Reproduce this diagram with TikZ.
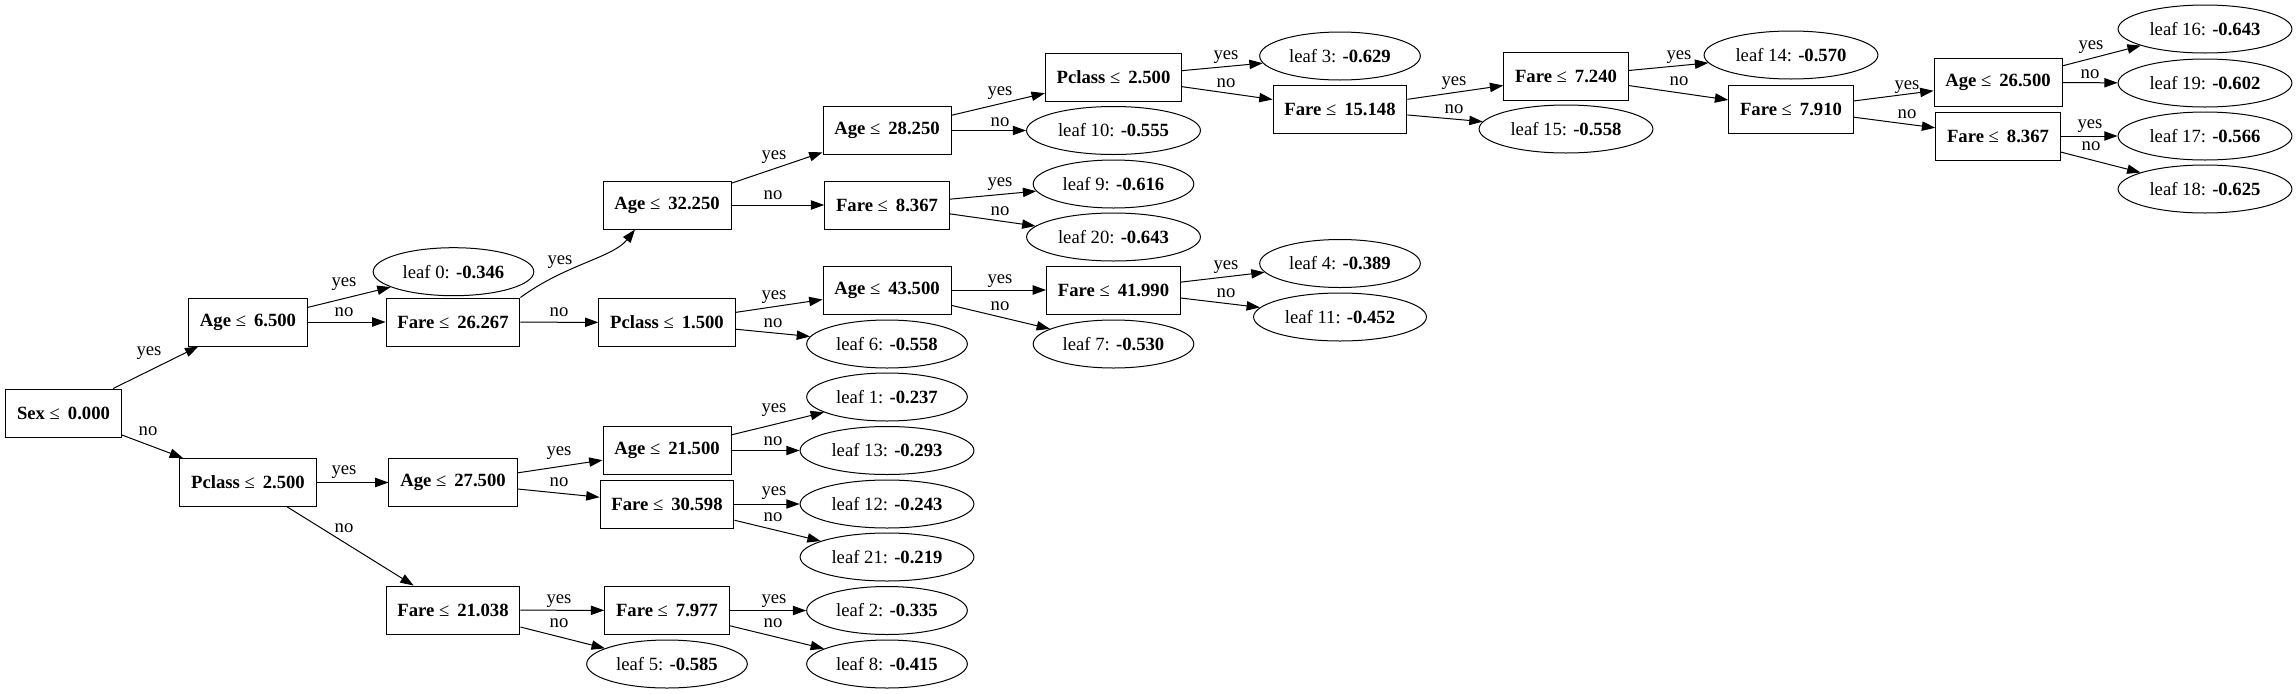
\documentclass[tikz,border=0pt]{standalone}
\usepackage{fontspec}
\setmainfont{Liberation Serif}
\usetikzlibrary{arrows.meta,shapes.geometric}
\newcommand\cmpsym{≤\kern2.5pt}
\begin{document}
\begin{tikzpicture}[x=0.75pt,y=-0.75pt,
  every node/.style={font=\fontsize{14pt}{16pt}\selectfont},
  split/.style={draw,line width=0.75pt,rectangle,minimum height=36pt,inner xsep=8.5pt,inner ysep=0pt},
  leafnode/.style={draw,line width=0.75pt,ellipse,minimum height=36pt,inner xsep=4.5pt,inner ysep=2pt},
  edge/.style={line width=0.75pt,-{Triangle[length=10pt,width=7pt]}},
  lbl/.style={inner sep=0pt}]
\useasboundingbox (0,0) rectangle (2296,693);
% internal nodes
\node[split] (n0) at (63.5,413) {\textbf{Sex} \cmpsym{} \textbf{0.000}};
\node[split] (n1) at (248,322) {\textbf{Age} \cmpsym{} \textbf{6.500}};
\node[split] (n2) at (248,482.5) {\textbf{Pclass} \cmpsym{} \textbf{2.500}};
\node[split] (n3) at (453,322) {\textbf{Fare} \cmpsym{} \textbf{26.267}};
\node[split] (n4) at (453,482.5) {\textbf{Age} \cmpsym{} \textbf{27.500}};
\node[split] (n5) at (453,610) {\textbf{Fare} \cmpsym{} \textbf{21.038}};
\node[split] (n6) at (667,205) {\textbf{Age} \cmpsym{} \textbf{32.250}};
\node[split] (n7) at (667,322.5) {\textbf{Pclass} \cmpsym{} \textbf{1.500}};
\node[split] (n8) at (667,450.5) {\textbf{Age} \cmpsym{} \textbf{21.500}};
\node[split] (n9) at (667,504) {\textbf{Fare} \cmpsym{} \textbf{30.598}};
\node[split] (n10) at (667,610.5) {\textbf{Fare} \cmpsym{} \textbf{7.977}};
\node[split] (n11) at (887,130.5) {\textbf{Age} \cmpsym{} \textbf{28.250}};
\node[split] (n12) at (887,205) {\textbf{Fare} \cmpsym{} \textbf{8.367}};
\node[split] (n13) at (887,290) {\textbf{Age} \cmpsym{} \textbf{43.500}};
\node[split] (n14) at (1113.5,77) {\textbf{Pclass} \cmpsym{} \textbf{2.500}};
\node[split] (n15) at (1113.5,290) {\textbf{Fare} \cmpsym{} \textbf{41.990}};
\node[split] (n16) at (1340,109) {\textbf{Fare} \cmpsym{} \textbf{15.148}};
\node[split] (n17) at (1566,76.5) {\textbf{Fare} \cmpsym{} \textbf{7.240}};
\node[split] (n18) at (1791,109) {\textbf{Fare} \cmpsym{} \textbf{7.910}};
\node[split] (n19) at (1998,82.5) {\textbf{Age} \cmpsym{} \textbf{26.500}};
\node[split] (n20) at (1998,136) {\textbf{Fare} \cmpsym{} \textbf{8.367}};
% leaves
\node[leafnode] (L0) at (453.5,271.7) {leaf 0: \textbf{-0.346}};
\node[leafnode] (L10) at (1113.5,130.5) {leaf 10: \textbf{-0.555}};
\node[leafnode] (L9) at (1113.5,184) {leaf 9: \textbf{-0.616}};
\node[leafnode] (L20) at (1113.5,237) {leaf 20: \textbf{-0.643}};
\node[leafnode] (L6) at (887,344) {leaf 6: \textbf{-0.558}};
\node[leafnode] (L7) at (1113.5,344) {leaf 7: \textbf{-0.530}};
\node[leafnode] (L1) at (887,397) {leaf 1: \textbf{-0.237}};
\node[leafnode] (L13) at (887,450.5) {leaf 13: \textbf{-0.293}};
\node[leafnode] (L12) at (887,504) {leaf 12: \textbf{-0.243}};
\node[leafnode] (L21) at (887,557) {leaf 21: \textbf{-0.219}};
\node[leafnode] (L2) at (887,610.5) {leaf 2: \textbf{-0.335}};
\node[leafnode] (L8) at (887,664) {leaf 8: \textbf{-0.415}};
\node[leafnode] (L5) at (667,664) {leaf 5: \textbf{-0.585}};
\node[leafnode] (L3) at (1340,56) {leaf 3: \textbf{-0.629}};
\node[leafnode] (L4) at (1340,263.5) {leaf 4: \textbf{-0.389}};
\node[leafnode] (L11) at (1340,317) {leaf 11: \textbf{-0.452}};
\node[leafnode] (L14) at (1791,55) {leaf 14: \textbf{-0.570}};
\node[leafnode] (L15) at (1566,129) {leaf 15: \textbf{-0.558}};
\node[leafnode] (L16) at (2205,29) {leaf 16: \textbf{-0.643}};
\node[leafnode] (L19) at (2205,83) {leaf 19: \textbf{-0.602}};
\node[leafnode] (L17) at (2205,136) {leaf 17: \textbf{-0.566}};
\node[leafnode] (L18) at (2205,189) {leaf 18: \textbf{-0.625}};
% edges
\draw[edge] (n0) -- (n1);
\draw[edge] (n0) -- (n2);
\draw[edge] (n1) -- (L0);
\draw[edge] (n1) -- (n3);
\draw[edge] (n3.north east) .. controls +(45,-33) and +(-22,28) .. ([xshift=-24pt]n6.south);
\draw[edge] (n3) -- (n7);
\draw[edge] (n2) -- (n4);
\draw[edge] (n2) -- (n5);
\draw[edge] (n6) -- (n11);
\draw[edge] (n6) -- (n12);
\draw[edge] (n7) -- (n13);
\draw[edge] (n7) -- (L6);
\draw[edge] (n11) -- (n14);
\draw[edge] (n11) -- (L10);
\draw[edge] (n12) -- (L9);
\draw[edge] (n12) -- (L20);
\draw[edge] (n13) -- (n15);
\draw[edge] (n13) -- (L7);
\draw[edge] (n14) -- (L3);
\draw[edge] (n14) -- (n16);
\draw[edge] (n15) -- (L4);
\draw[edge] (n15) -- (L11);
\draw[edge] (n16) -- (n17);
\draw[edge] (n16) -- (L15);
\draw[edge] (n17) -- (L14);
\draw[edge] (n17) -- (n18);
\draw[edge] (n18) -- (n19);
\draw[edge] (n18) -- (n20);
\draw[edge] (n19) -- (L16);
\draw[edge] (n19) -- (L19);
\draw[edge] (n20) -- (L17);
\draw[edge] (n20) -- (L18);
\draw[edge] (n4) -- (n8);
\draw[edge] (n4) -- (n9);
\draw[edge] (n5) -- (n10);
\draw[edge] (n5) -- (L5);
\draw[edge] (n8) -- (L1);
\draw[edge] (n8) -- (L13);
\draw[edge] (n9) -- (L12);
\draw[edge] (n9) -- (L21);
\draw[edge] (n10) -- (L2);
\draw[edge] (n10) -- (L8);
% edge labels
\node[lbl] (e1) at (149,353) {yes};
\node[lbl] (e2) at (148,431) {no};
\node[lbl] (e3) at (344,284) {yes};
\node[lbl] (e4) at (344,312) {no};
\node[lbl] (e5) at (560,262) {yes};
\node[lbl] (e6) at (559,312) {no};
\node[lbl] (e7) at (344,472) {yes};
\node[lbl] (e8) at (344,528) {no};
\node[lbl] (e9) at (774,157) {yes};
\node[lbl] (e10) at (773,195) {no};
\node[lbl] (e11) at (774,297) {yes};
\node[lbl] (e12) at (773,323) {no};
\node[lbl] (e13) at (1000,93) {yes};
\node[lbl] (e14) at (1000,122) {no};
\node[lbl] (e15) at (1000,184) {yes};
\node[lbl] (e16) at (1000,211) {no};
\node[lbl] (e17) at (1000,281) {yes};
\node[lbl] (e18) at (1000,306) {no};
\node[lbl] (e19) at (1226,57) {yes};
\node[lbl] (e20) at (1226,83) {no};
\node[lbl] (e21) at (1226,267) {yes};
\node[lbl] (e22) at (1226,293) {no};
\node[lbl] (e23) at (1454,83) {yes};
\node[lbl] (e24) at (1454,109) {no};
\node[lbl] (e25) at (1679,57) {yes};
\node[lbl] (e26) at (1679,81) {no};
\node[lbl] (e27) at (1907,87) {yes};
\node[lbl] (e28) at (1907,114) {no};
\node[lbl] (e29) at (2091,47) {yes};
\node[lbl] (e30) at (2090,74) {no};
\node[lbl] (e31) at (2090,126) {yes};
\node[lbl] (e32) at (2091,146) {no};
\node[lbl] (e33) at (559,453) {yes};
\node[lbl] (e34) at (559,482) {no};
\node[lbl] (e35) at (559,601) {yes};
\node[lbl] (e36) at (559,623) {no};
\node[lbl] (e37) at (774,410) {yes};
\node[lbl] (e38) at (773,441) {no};
\node[lbl] (e39) at (774,493) {yes};
\node[lbl] (e40) at (773,517) {no};
\node[lbl] (e41) at (774,601) {yes};
\node[lbl] (e42) at (773,623) {no};
\end{tikzpicture}
\end{document}
